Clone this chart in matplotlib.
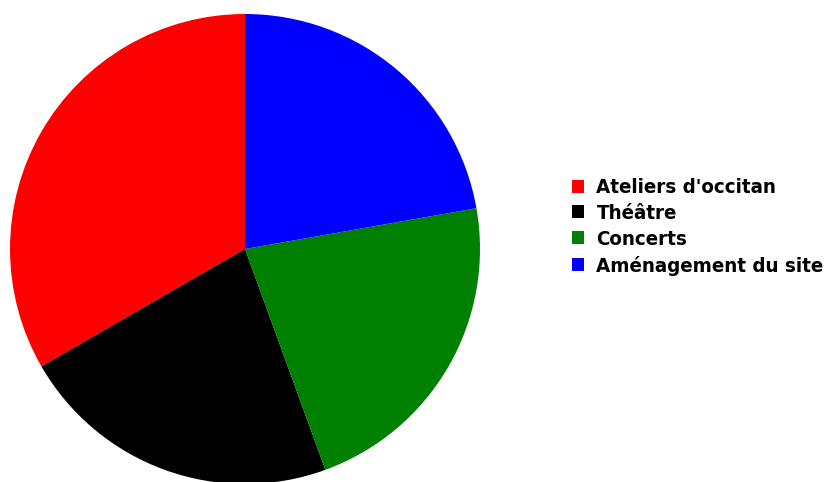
import matplotlib
matplotlib.use("Agg")
import matplotlib.pyplot as plt

labels = ["Ateliers d'occitan", "Théâtre", "Concerts", "Aménagement du site"]
values = [3, 2, 2, 2]
colors = ["#ff0000", "#000000", "#008000", "#0000ff"]

fig = plt.figure(figsize=(8.3, 4.82), dpi=100)
# axes box placed so the pie sits where it does in the reference
ax = fig.add_axes([10 / 830, -2 / 482, 470 / 830, 470 / 482])
wedges, _ = ax.pie(values, colors=colors, startangle=90, counterclock=True,
                   radius=1.0, wedgeprops=dict(linewidth=0))
ax.set_xlim(-1, 1)
ax.set_ylim(-1, 1)
ax.set_aspect("equal")

leg = fig.legend(wedges, labels, loc="center left", bbox_to_anchor=(572 / 830, 1 - 227 / 482),
                 frameon=False, borderaxespad=0, borderpad=0,
                 handlelength=0.6, handleheight=0.6, handletextpad=0.6,
                 labelspacing=0.33,
                 prop=dict(family="DejaVu Sans", stretch="condensed", weight="bold", size=14.7))

fig.savefig("out.png", dpi=100)
